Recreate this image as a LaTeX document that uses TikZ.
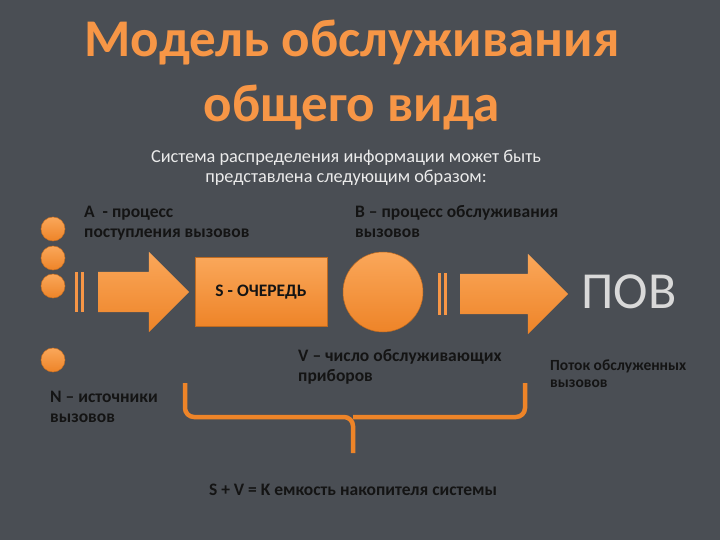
\documentclass[tikz,border=0pt]{standalone}
\usepackage{fontspec}
\setmainfont{Carlito}
\usetikzlibrary{shapes.arrows, positioning}

\definecolor{slate}{HTML}{4A4E54}
\definecolor{tangerine}{HTML}{F79646}
\definecolor{tangerinelight}{HTML}{FAA75A}
\definecolor{tangerinedark}{HTML}{EE8428}
\definecolor{ink}{HTML}{141414}

\begin{document}
\begin{tikzpicture}[x=1pt, y=-1pt,
  every node/.style={font=\fontsize{17.5}{20}\selectfont\bfseries, text=ink, inner sep=0pt},
  heading/.style={font=\fontsize{53}{60}\selectfont\bfseries, text=tangerine, anchor=base},
  subtitle/.style={font=\fontsize{18.3}{20}\selectfont, text=white!92!black, align=center},
  note/.style={anchor=west, align=left},
  source/.style={circle, minimum size=24pt,
    top color=tangerinelight, bottom color=tangerinedark, draw=tangerinedark!85!black, line width=0.5pt},
  blockarrow/.style={single arrow, single arrow head extend=20pt,
    inner xsep=0pt, inner ysep=20pt, minimum height=#1,
    top color=tangerinelight, bottom color=tangerinedark},
  stripe/.style={fill=tangerine},
  queuebox/.style={rectangle, minimum width=132pt, minimum height=69pt,
    top color=tangerinelight, bottom color=tangerinedark, draw=tangerinedark!80!black, line width=0.5pt},
  server/.style={circle, minimum size=80pt,
    top color=tangerinelight, bottom color=tangerinedark, draw=tangerinedark!80!black, line width=0.5pt},
  brace/.style={draw=tangerinedark, line width=4.5pt, rounded corners=9pt}
  ]

  % background
  \fill[slate] (0,0) rectangle (720,540);
  \useasboundingbox (0,0) rectangle (720,540);

  % Title
  \node[heading] (title1) at (352,57) {Модель обслуживания};
  \node[heading] (title2) at (352,122) {общего вида};
  \node[subtitle] (intro) at (346,168) {Система распределения информации может быть\\представлена следующим образом:};

  % Sources
  \node[source] (s1) at (53,229) {};
  \node[source] (s2) at (53,258) {};
  \node[source] (s3) at (53,286) {};
  \node[source] (s4) at (53,360) {};

  % Flow
  \fill[stripe] (75,272) rectangle (78,312);
  \fill[stripe] (81,272) rectangle (84,312);
  \node[blockarrow=91pt] (inflow) at (133.5,292) {};
  \node[queuebox] (queue) at (261,292) {S - ОЧЕРЕДЬ};
  \node[server] (server) at (383,292) {};
  \fill[stripe] (438,273) rectangle (441,315);
  \fill[stripe] (444,273) rectangle (447,315);
  \node[blockarrow=108pt] (outflow) at (504,294) {};
  \node[font=\fontsize{52}{60}\selectfont, text=white!85!black] (pov) at (629,292) {ПОВ};

  % Labels
  \node[note] (procA) at (84,223) {A \ - процесс\\поступления вызовов};
  \node[note] (procB) at (355,222) {B – процесс обслуживания\\вызовов};
  \node[note] (devV) at (298,367) {V – число обслуживающих\\приборов};
  \node[note, font=\fontsize{15.5}{17}\selectfont\bfseries] (flow) at (550,374) {Поток обслуженных\\вызовов};
  \node[note] (srcN) at (50,407) {N – источники\\вызовов};

  % Brace
  \coordinate (bl) at (185,383);
  \coordinate (br) at (525,383);
  \coordinate (bm) at (353,417);
  \coordinate (bt) at (353,453);
  \draw[brace] (bl) |- (bm) -- (bt);
  \draw[brace] (br) |- (bm);
  \node (capacity) at (353,490) {S + V = K емкость накопителя системы};

\end{tikzpicture}
\end{document}
